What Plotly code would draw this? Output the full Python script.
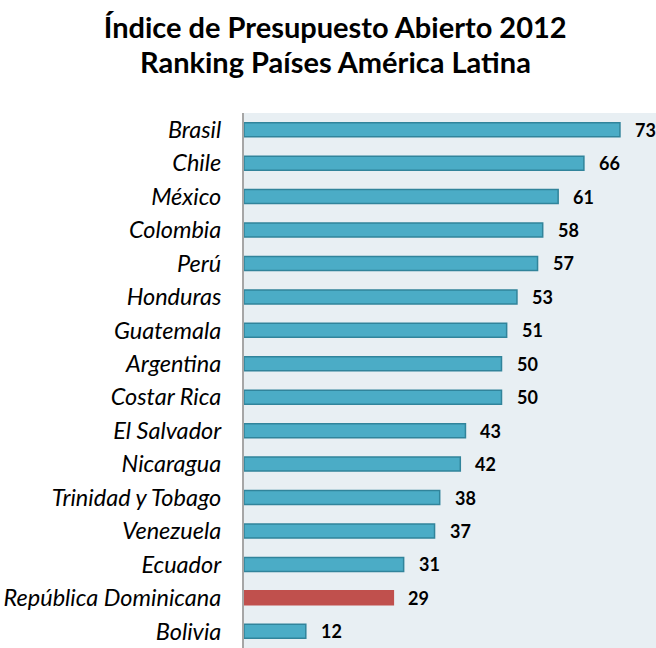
import plotly.graph_objects as go

# Data
countries = [
    "Brasil", "Chile", "México", "Colombia", "Perú", "Honduras", "Guatemala",
    "Argentina", "Costar Rica", "El Salvador", "Nicaragua", "Trinidad y Tobago",
    "Venezuela", "Ecuador", "República Dominicana", "Bolivia",
]
scores = [73, 66, 61, 58, 57, 53, 51, 50, 50, 43, 42, 38, 37, 31, 29, 12]
highlight = "República Dominicana"
title_lines = ["Índice de Presupuesto Abierto 2012", "Ranking Países América Latina"]

TEAL = "#4BACC6"
TEAL_EDGE = "#31849B"
RED = "#C0504D"
FONT = "Lato, Carlito, Calibri, sans-serif"

fill = [RED if c == highlight else TEAL for c in countries]
edge = [RED if c == highlight else TEAL_EDGE for c in countries]

fig = go.Figure(go.Bar(
    x=scores,
    y=countries,
    orientation="h",
    width=0.42,
    marker=dict(color=fill, line=dict(color=edge, width=1.5)),
    hoverinfo="x+y",
))

# value labels placed just right of each bar
for c, v in zip(countries, scores):
    fig.add_annotation(
        x=v, y=c, text=f"<b>{v}</b>", showarrow=False,
        xanchor="left", xshift=13,
        font=dict(family=FONT, size=18, color="#000000"),
    )

# second title line, kept tighter than plotly's own line spacing
fig.add_annotation(
    text=f"<b>{title_lines[1]}</b>", xref="paper", yref="paper",
    x=0.222, y=1.097, xanchor="center", yanchor="middle", showarrow=False,
    font=dict(family=FONT, size=29, color="#000000"),
)

fig.update_layout(
    title=dict(
        text=f"<b>{title_lines[0]}</b>",
        x=0.511, xanchor="center", y=0.957, yanchor="middle",
        font=dict(family=FONT, size=29, color="#000000"),
    ),
    width=656,
    height=648,
    margin=dict(l=244, r=0, t=113, b=0),
    paper_bgcolor="white",
    plot_bgcolor="#E8EFF3",
    showlegend=False,
    xaxis=dict(
        range=[0, 80], showgrid=False, zeroline=False,
        showticklabels=False, ticks="", fixedrange=True,
    ),
    yaxis=dict(
        autorange="reversed", showgrid=False, ticks="",
        showline=True, linecolor="#A6A6A6", linewidth=2,
        ticklabelstandoff=16,
        tickfont=dict(family=FONT, size=23.5, color="#000000", style="italic"),
    ),
)

# drop the default 8px page margin so the figure fills the window
fig.write_html(
    "out.html",
    config={"displayModeBar": False},
    post_script="document.body.style.margin='0';document.body.style.overflow='hidden';",
)
